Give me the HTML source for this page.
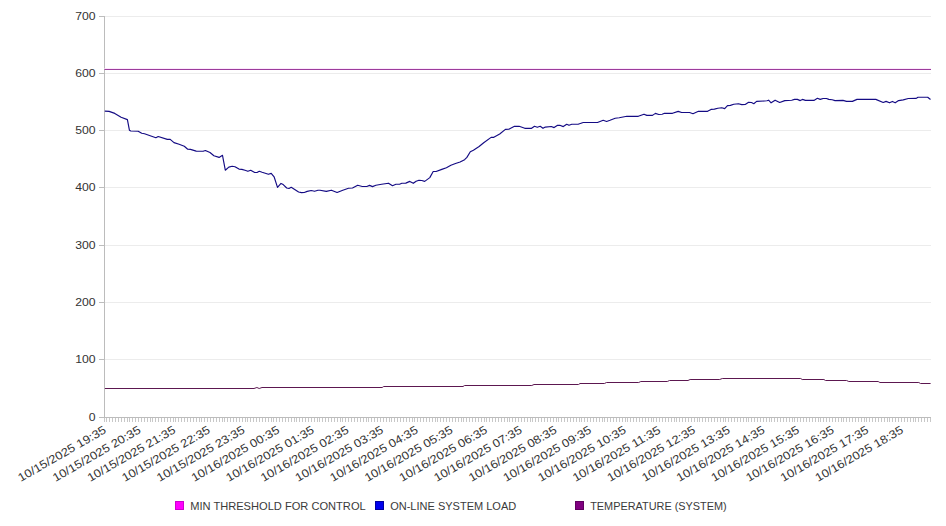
<!DOCTYPE html>
<html><head><meta charset="utf-8"><title>chart</title>
<style>html,body{margin:0;padding:0;background:#fff;width:946px;height:526px;overflow:hidden;font-family:"Liberation Sans",sans-serif}svg{display:block}</style>
</head><body>
<svg width="946" height="526" viewBox="0 0 946 526">
<rect width="946" height="526" fill="#ffffff"/>
<g stroke="#ececec" stroke-width="1" shape-rendering="crispEdges"><line x1="104" y1="16.5" x2="931" y2="16.5"/><line x1="104" y1="73.5" x2="931" y2="73.5"/><line x1="104" y1="130.5" x2="931" y2="130.5"/><line x1="104" y1="187.5" x2="931" y2="187.5"/><line x1="104" y1="245.5" x2="931" y2="245.5"/><line x1="104" y1="302.5" x2="931" y2="302.5"/><line x1="104" y1="359.5" x2="931" y2="359.5"/></g>
<g stroke="#bdbdbd" stroke-width="1" shape-rendering="crispEdges"><line x1="99" y1="16.5" x2="104" y2="16.5"/><line x1="99" y1="73.5" x2="104" y2="73.5"/><line x1="99" y1="130.5" x2="104" y2="130.5"/><line x1="99" y1="187.5" x2="104" y2="187.5"/><line x1="99" y1="245.5" x2="104" y2="245.5"/><line x1="99" y1="302.5" x2="104" y2="302.5"/><line x1="99" y1="359.5" x2="104" y2="359.5"/><line x1="99" y1="417.5" x2="104" y2="417.5"/></g>
<path stroke="#c8c8c8" stroke-width="1" shape-rendering="crispEdges" d="M104.5 418V422M106.5 418V422M109.5 418V422M112.5 418V422M115.5 418V422M118.5 418V422M121.5 418V422M124.5 418V422M127.5 418V422M129.5 418V422M132.5 418V422M135.5 418V422M138.5 418V422M141.5 418V422M144.5 418V422M147.5 418V422M150.5 418V422M152.5 418V422M155.5 418V422M158.5 418V422M161.5 418V422M164.5 418V422M167.5 418V422M170.5 418V422M173.5 418V422M175.5 418V422M178.5 418V422M181.5 418V422M184.5 418V422M187.5 418V422M190.5 418V422M193.5 418V422M196.5 418V422M199.5 418V422M201.5 418V422M204.5 418V422M207.5 418V422M210.5 418V422M213.5 418V422M216.5 418V422M219.5 418V422M222.5 418V422M224.5 418V422M227.5 418V422M230.5 418V422M233.5 418V422M236.5 418V422M239.5 418V422M242.5 418V422M245.5 418V422M247.5 418V422M250.5 418V422M253.5 418V422M256.5 418V422M259.5 418V422M262.5 418V422M265.5 418V422M268.5 418V422M271.5 418V422M273.5 418V422M276.5 418V422M279.5 418V422M282.5 418V422M285.5 418V422M288.5 418V422M291.5 418V422M294.5 418V422M296.5 418V422M299.5 418V422M302.5 418V422M305.5 418V422M308.5 418V422M311.5 418V422M314.5 418V422M317.5 418V422M319.5 418V422M322.5 418V422M325.5 418V422M328.5 418V422M331.5 418V422M334.5 418V422M337.5 418V422M340.5 418V422M342.5 418V422M345.5 418V422M348.5 418V422M351.5 418V422M354.5 418V422M357.5 418V422M360.5 418V422M363.5 418V422M366.5 418V422M368.5 418V422M371.5 418V422M374.5 418V422M377.5 418V422M380.5 418V422M383.5 418V422M386.5 418V422M389.5 418V422M391.5 418V422M394.5 418V422M397.5 418V422M400.5 418V422M403.5 418V422M406.5 418V422M409.5 418V422M412.5 418V422M414.5 418V422M417.5 418V422M420.5 418V422M423.5 418V422M426.5 418V422M429.5 418V422M432.5 418V422M435.5 418V422M437.5 418V422M440.5 418V422M443.5 418V422M446.5 418V422M449.5 418V422M452.5 418V422M455.5 418V422M458.5 418V422M461.5 418V422M463.5 418V422M466.5 418V422M469.5 418V422M472.5 418V422M475.5 418V422M478.5 418V422M481.5 418V422M484.5 418V422M486.5 418V422M489.5 418V422M492.5 418V422M495.5 418V422M498.5 418V422M501.5 418V422M504.5 418V422M507.5 418V422M509.5 418V422M512.5 418V422M515.5 418V422M518.5 418V422M521.5 418V422M524.5 418V422M527.5 418V422M530.5 418V422M532.5 418V422M535.5 418V422M538.5 418V422M541.5 418V422M544.5 418V422M547.5 418V422M550.5 418V422M553.5 418V422M556.5 418V422M558.5 418V422M561.5 418V422M564.5 418V422M567.5 418V422M570.5 418V422M573.5 418V422M576.5 418V422M579.5 418V422M581.5 418V422M584.5 418V422M587.5 418V422M590.5 418V422M593.5 418V422M596.5 418V422M599.5 418V422M602.5 418V422M604.5 418V422M607.5 418V422M610.5 418V422M613.5 418V422M616.5 418V422M619.5 418V422M622.5 418V422M625.5 418V422M627.5 418V422M630.5 418V422M633.5 418V422M636.5 418V422M639.5 418V422M642.5 418V422M645.5 418V422M648.5 418V422M651.5 418V422M653.5 418V422M656.5 418V422M659.5 418V422M662.5 418V422M665.5 418V422M668.5 418V422M671.5 418V422M674.5 418V422M676.5 418V422M679.5 418V422M682.5 418V422M685.5 418V422M688.5 418V422M691.5 418V422M694.5 418V422M697.5 418V422M699.5 418V422M702.5 418V422M705.5 418V422M708.5 418V422M711.5 418V422M714.5 418V422M717.5 418V422M720.5 418V422M723.5 418V422M725.5 418V422M728.5 418V422M731.5 418V422M734.5 418V422M737.5 418V422M740.5 418V422M743.5 418V422M746.5 418V422M748.5 418V422M751.5 418V422M754.5 418V422M757.5 418V422M760.5 418V422M763.5 418V422M766.5 418V422M769.5 418V422M771.5 418V422M774.5 418V422M777.5 418V422M780.5 418V422M783.5 418V422M786.5 418V422M789.5 418V422M792.5 418V422M794.5 418V422M797.5 418V422M800.5 418V422M803.5 418V422M806.5 418V422M809.5 418V422M812.5 418V422M815.5 418V422M818.5 418V422M820.5 418V422M823.5 418V422M826.5 418V422M829.5 418V422M832.5 418V422M835.5 418V422M838.5 418V422M841.5 418V422M843.5 418V422M846.5 418V422M849.5 418V422M852.5 418V422M855.5 418V422M858.5 418V422M861.5 418V422M864.5 418V422M866.5 418V422M869.5 418V422M872.5 418V422M875.5 418V422M878.5 418V422M881.5 418V422M884.5 418V422M887.5 418V422M889.5 418V422M892.5 418V422M895.5 418V422M898.5 418V422M901.5 418V422M904.5 418V422M907.5 418V422M910.5 418V422M913.5 418V422M915.5 418V422M918.5 418V422M921.5 418V422M924.5 418V422M927.5 418V422M930.5 418V422"/>
<g stroke="#bcbcbc" stroke-width="1" shape-rendering="crispEdges"><line x1="104.5" y1="16" x2="104.5" y2="418"/><line x1="99" y1="417.5" x2="931" y2="417.5"/></g>
<g font-family="Liberation Sans, sans-serif" font-size="11" fill="#333333"><text transform="translate(95.6,420.7) scale(1.11,1)" text-anchor="end">0</text><text transform="translate(95.6,362.7) scale(1.11,1)" text-anchor="end">100</text><text transform="translate(95.6,305.7) scale(1.11,1)" text-anchor="end">200</text><text transform="translate(95.6,248.7) scale(1.11,1)" text-anchor="end">300</text><text transform="translate(95.6,190.7) scale(1.11,1)" text-anchor="end">400</text><text transform="translate(95.6,133.7) scale(1.11,1)" text-anchor="end">500</text><text transform="translate(95.6,76.7) scale(1.11,1)" text-anchor="end">600</text><text transform="translate(95.6,19.7) scale(1.11,1)" text-anchor="end">700</text></g>
<line x1="104.5" y1="68.5" x2="931" y2="68.5" stroke="#fde8fd" stroke-width="1"/>
<line x1="104.5" y1="69.5" x2="931" y2="69.5" stroke="#9c3c9c" stroke-width="1"/>
<polyline fill="none" stroke="#5c1750" stroke-width="1" stroke-linejoin="round" points="104.9,388.5 254,388.5 256.9,387.5 259.2,388.5 262,387.5 382.2,387.5 383.7,386.5 463,386.5 464.6,385.5 531.8,385.5 534,384.5 578.5,384.5 580,383.5 604.4,383.5 606.5,382.5 638.7,382.5 640.8,381.5 667.3,381.5 669.5,380.5 688,380.5 690.1,379.5 719.7,379.5 722.3,378.5 800.7,378.5 802.2,379.5 823.9,379.5 825.5,380.5 846.6,380.5 848.8,381.5 878.2,381.5 879.9,382.5 918.8,382.5 920.5,383.5 930.6,383.5"/>
<polyline fill="none" stroke="#140b84" stroke-width="1.15" stroke-linejoin="round" points="104.8,111.1 109.1,111.4 114.8,113.4 121.1,117.3 127.4,119.6 129.4,130.2 130.8,131 138.2,131.2 141.7,133.3 144.5,133.7 155.9,137.7 158.2,136.5 167.3,139.4 170.2,139.4 174,142.6 179.1,144.3 184.3,146.3 187.7,149.2 190.5,149.4 196.2,151.1 203.1,151.3 205.4,150.5 210,152.5 213.9,155.7 219.1,157.4 222.5,155.3 225.3,170.2 228.8,167.1 232.2,166.3 235,166.7 239,169.1 241.9,169.4 245,170.3 247.9,171.3 250.7,170.3 254.7,172.5 257,172.5 259.3,171.3 262.1,172.3 268.4,174.3 271.2,173.4 274.1,176.8 277.5,187.4 281,183.4 283.2,184.6 286.7,188 289,188.5 291.2,187.3 298.6,192 301.5,192.6 304.3,192.5 307.2,191.4 311.2,190.5 314.6,191.3 318,190.2 320,190.2 326.3,191.4 331.4,190.2 337.1,192.5 342.8,190.2 348.5,188.3 352.5,188 357.7,185.3 362.2,186.5 366.8,186.5 369.6,185.4 372.5,186.6 375.9,185.3 381.6,184.3 388.5,183.2 392.5,185.7 395.9,184.3 399.6,184.2 401.8,183.3 405.8,183.1 409.8,181.4 413.3,183.3 416.1,181.2 419,180.2 421.8,180.5 424.7,181.4 429.8,177.6 433.2,171.5 436.1,171.5 441.8,169.4 446.4,167.7 450.9,165.2 455.5,163.5 460.1,162 464.6,159.7 466.9,157.4 470.3,151.7 473.4,150.2 479.1,146.5 483.7,142.8 491.1,137.4 493.4,137.4 499.7,134 505.4,129.4 508.8,129.2 514.5,126.3 519.1,126.3 524.8,128.3 531.6,128.3 534.5,126.3 537.3,127.3 540.2,126.3 543,128.3 545.3,127.1 551.3,126.5 554.1,127.6 557.6,125.3 559.8,125.3 563.3,126.6 566.7,124.3 569,125.3 571.8,124.3 578.1,124.2 583.2,122.5 597.5,122.5 603.2,120.3 606.6,121.5 610,120.3 615.2,118.3 619.2,117.7 626.8,116.3 638.3,116.3 644,114.2 646.8,115.4 652.5,115.4 655.4,113.4 658.8,114.5 662.2,114.2 664.5,113.3 672.5,113.3 678.2,111.4 681.6,112.5 689.6,112.5 693,113.7 698.4,111.3 707.6,111.3 711,109.4 714.4,109.1 717.8,108.2 721.8,107.7 724.7,108.6 727.5,105.6 730.4,105.4 733.8,104.2 738.4,103.7 741.8,104.6 745.2,104.5 748.6,102.3 751.5,102.5 753.8,103.7 756.6,101.4 766.9,100.8 768.6,100.2 771.1,102.8 775.1,100.2 779.7,102.5 784.8,100.6 791.7,100.2 794.5,99.4 797.4,99.4 800.2,100.6 802.5,99.4 805.4,100.4 813.9,100.4 817.4,98.3 820.2,99.4 823.1,98.5 826.5,98.5 828.8,99.4 832.2,99.7 835,100.6 843,100.4 846.5,101.4 852.4,101.4 857,99.4 875.8,99.4 883.2,102.5 886.1,101.4 889.5,102.8 892.4,101.4 895.2,102.8 898.6,100.6 903.2,99.9 908.3,98.5 916.3,98.4 918,97.2 927.7,97.2 930.5,99.5"/>
<g font-family="Liberation Sans, sans-serif" font-size="11.6" fill="#333333"><text transform="translate(107.00,432.30) rotate(-30)" text-anchor="end" textLength="99.5" lengthAdjust="spacingAndGlyphs">10/15/2025 19:35</text><text transform="translate(141.66,432.30) rotate(-30)" text-anchor="end" textLength="99.5" lengthAdjust="spacingAndGlyphs">10/15/2025 20:35</text><text transform="translate(176.32,432.30) rotate(-30)" text-anchor="end" textLength="99.5" lengthAdjust="spacingAndGlyphs">10/15/2025 21:35</text><text transform="translate(210.98,432.30) rotate(-30)" text-anchor="end" textLength="99.5" lengthAdjust="spacingAndGlyphs">10/15/2025 22:35</text><text transform="translate(245.64,432.30) rotate(-30)" text-anchor="end" textLength="99.5" lengthAdjust="spacingAndGlyphs">10/15/2025 23:35</text><text transform="translate(280.30,432.30) rotate(-30)" text-anchor="end" textLength="99.5" lengthAdjust="spacingAndGlyphs">10/16/2025 00:35</text><text transform="translate(314.96,432.30) rotate(-30)" text-anchor="end" textLength="99.5" lengthAdjust="spacingAndGlyphs">10/16/2025 01:35</text><text transform="translate(349.62,432.30) rotate(-30)" text-anchor="end" textLength="99.5" lengthAdjust="spacingAndGlyphs">10/16/2025 02:35</text><text transform="translate(384.28,432.30) rotate(-30)" text-anchor="end" textLength="99.5" lengthAdjust="spacingAndGlyphs">10/16/2025 03:35</text><text transform="translate(418.94,432.30) rotate(-30)" text-anchor="end" textLength="99.5" lengthAdjust="spacingAndGlyphs">10/16/2025 04:35</text><text transform="translate(453.60,432.30) rotate(-30)" text-anchor="end" textLength="99.5" lengthAdjust="spacingAndGlyphs">10/16/2025 05:35</text><text transform="translate(488.26,432.30) rotate(-30)" text-anchor="end" textLength="99.5" lengthAdjust="spacingAndGlyphs">10/16/2025 06:35</text><text transform="translate(522.92,432.30) rotate(-30)" text-anchor="end" textLength="99.5" lengthAdjust="spacingAndGlyphs">10/16/2025 07:35</text><text transform="translate(557.58,432.30) rotate(-30)" text-anchor="end" textLength="99.5" lengthAdjust="spacingAndGlyphs">10/16/2025 08:35</text><text transform="translate(592.24,432.30) rotate(-30)" text-anchor="end" textLength="99.5" lengthAdjust="spacingAndGlyphs">10/16/2025 09:35</text><text transform="translate(626.90,432.30) rotate(-30)" text-anchor="end" textLength="99.5" lengthAdjust="spacingAndGlyphs">10/16/2025 10:35</text><text transform="translate(661.56,432.30) rotate(-30)" text-anchor="end" textLength="99.5" lengthAdjust="spacingAndGlyphs">10/16/2025 11:35</text><text transform="translate(696.22,432.30) rotate(-30)" text-anchor="end" textLength="99.5" lengthAdjust="spacingAndGlyphs">10/16/2025 12:35</text><text transform="translate(730.88,432.30) rotate(-30)" text-anchor="end" textLength="99.5" lengthAdjust="spacingAndGlyphs">10/16/2025 13:35</text><text transform="translate(765.54,432.30) rotate(-30)" text-anchor="end" textLength="99.5" lengthAdjust="spacingAndGlyphs">10/16/2025 14:35</text><text transform="translate(800.20,432.30) rotate(-30)" text-anchor="end" textLength="99.5" lengthAdjust="spacingAndGlyphs">10/16/2025 15:35</text><text transform="translate(834.86,432.30) rotate(-30)" text-anchor="end" textLength="99.5" lengthAdjust="spacingAndGlyphs">10/16/2025 16:35</text><text transform="translate(869.52,432.30) rotate(-30)" text-anchor="end" textLength="99.5" lengthAdjust="spacingAndGlyphs">10/16/2025 17:35</text><text transform="translate(904.18,432.30) rotate(-30)" text-anchor="end" textLength="99.5" lengthAdjust="spacingAndGlyphs">10/16/2025 18:35</text></g>
<g font-family="Liberation Sans, sans-serif" font-size="11.3" fill="#3a3a3a"><rect x="175.5" y="501.5" width="8" height="8" fill="#ff00ff" stroke="#d000d0" stroke-width="1"/><text x="190.2" y="509.5" textLength="175.5" lengthAdjust="spacingAndGlyphs">MIN THRESHOLD FOR CONTROL</text><rect x="375.5" y="501.5" width="8" height="8" fill="#0000ee" stroke="#0000a0" stroke-width="1"/><text x="390.2" y="509.5" textLength="126" lengthAdjust="spacingAndGlyphs">ON-LINE SYSTEM LOAD</text><rect x="575.5" y="501.5" width="8" height="8" fill="#800080" stroke="#600060" stroke-width="1"/><text x="590.2" y="509.5" textLength="136.5" lengthAdjust="spacingAndGlyphs">TEMPERATURE (SYSTEM)</text></g>
</svg>
</body></html>
